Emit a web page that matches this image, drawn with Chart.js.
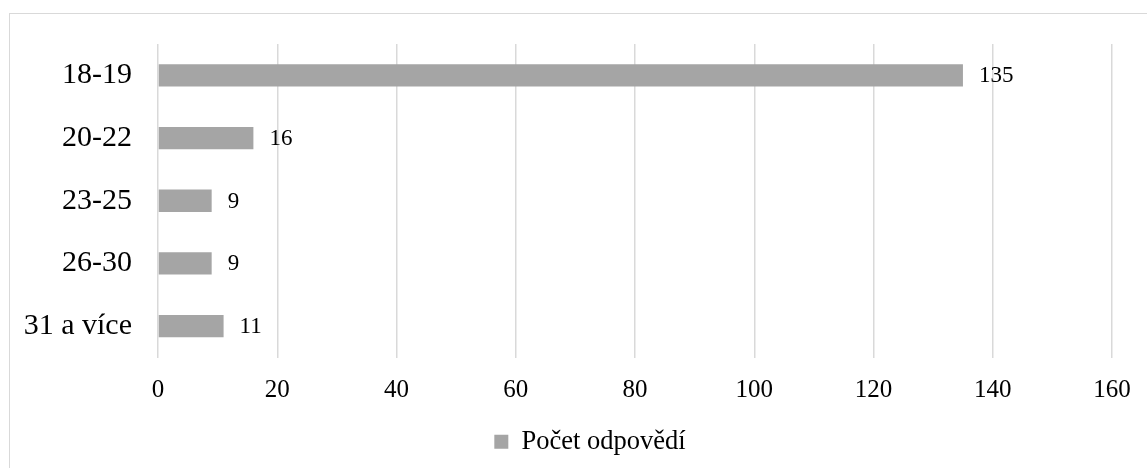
<!DOCTYPE html>
<html>
<head>
<meta charset="utf-8">
<script src="https://cdn.jsdelivr.net/npm/chart.js@4"></script>
<style>
  html, body { margin: 0; padding: 0; background: #fff; overflow: hidden; }
  #frame { position: absolute; left: 9px; top: 13px; width: 1160px; height: 480px; border: 1.5px solid #d9d9d9; box-sizing: border-box; }
  #wrap { position: absolute; left: 0; top: 0; width: 1147px; height: 468px; }
</style>
</head>
<body>
<div id="frame"></div>
<div id="wrap"><canvas id="chart"></canvas></div>
<script>
// age groups and answer counts
const categories = ['18-19', '20-22', '23-25', '26-30', '31 a více'];
const counts = [135, 16, 9, 9, 11];
const seriesName = 'Počet odpovědí';
const xTicks = [0, 20, 40, 60, 80, 100, 120, 140, 160];

const FONT = "'Liberation Serif', 'Times New Roman', serif";
const BAR = '#a5a5a5';

// value labels just past the end of each bar
const barLabels = {
  id: 'barLabels',
  afterDatasetsDraw(chart) {
    const { ctx } = chart;
    const meta = chart.getDatasetMeta(0);
    ctx.save();
    ctx.font = `23px ${FONT}`;
    ctx.fillStyle = '#000';
    ctx.textAlign = 'left';
    ctx.textBaseline = 'middle';
    meta.data.forEach((bar, i) => {
      ctx.fillText(String(counts[i]), bar.x + 16, bar.y + 1);
    });
    ctx.restore();
  }
};

// move the legend a bit so it sits where the original has it
const legendShift = {
  id: 'legendShift',
  afterLayout(chart) {
    const lg = chart.legend;
    if (!lg) return;
    const shift = (chart.chartArea.left + chart.chartArea.right) / 2 - (lg.left + lg.right) / 2 - 45;
    lg.left += shift;
    lg.right += shift;
  }
};

new Chart(document.getElementById('chart'), {
  type: 'bar',
  data: {
    labels: categories,
    datasets: [{
      label: seriesName,
      data: counts,
      backgroundColor: BAR,
      borderWidth: 0,
      categoryPercentage: 1,
      barPercentage: 0.355
    }]
  },
  options: {
    indexAxis: 'y',
    responsive: true,
    maintainAspectRatio: false,
    animation: false,
    layout: { padding: { top: 43, right: 35, left: 0, bottom: 3 } },
    plugins: {
      tooltip: { enabled: false },
      legend: {
        position: 'bottom',
        labels: {
          color: '#000',
          font: { family: FONT, size: 26.5 },
          boxWidth: 14,
          boxHeight: 14,
          padding: 5,
          generateLabels: () => [{
            text: seriesName,
            fillStyle: BAR,
            strokeStyle: BAR,
            lineWidth: 0,
            datasetIndex: 0
          }]
        }
      }
    },
    scales: {
      x: {
        min: 0,
        max: 160,
        afterBuildTicks: (scale) => { scale.ticks = xTicks.map((v) => ({ value: v })); },
        afterFit: (scale) => { scale.paddingRight = 0; scale.paddingLeft = 0; },
        grid: { color: '#d9d9d9', lineWidth: 1.5, drawTicks: false },
        border: { display: false },
        ticks: { color: '#000', font: { family: FONT, size: 25 }, padding: 18, maxRotation: 0 }
      },
      y: {
        afterFit: (scale) => { scale.width = 158; },
        grid: { display: false, drawTicks: false },
        border: { display: false },
        ticks: { color: '#000', font: { family: FONT, size: 30 }, padding: 26 }
      }
    }
  },
  plugins: [barLabels, legendShift]
});
</script>
</body>
</html>
